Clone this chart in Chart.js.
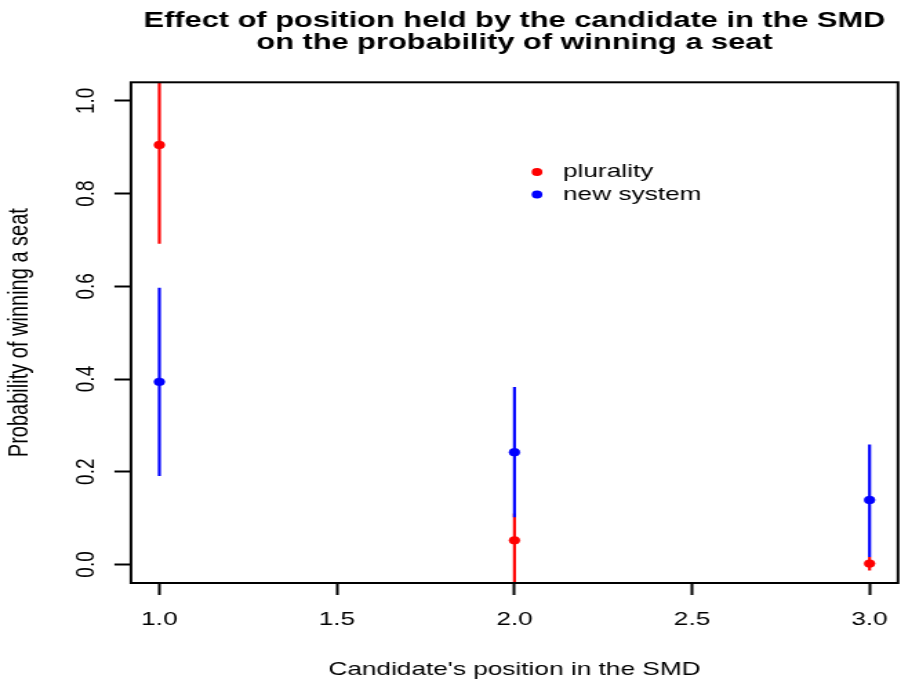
<!DOCTYPE html>
<html><head><meta charset="utf-8">
<script src="https://cdn.jsdelivr.net/npm/chart.js@4/dist/chart.umd.min.js"></script>
<style>
html,body{margin:0;padding:0;background:#fff;overflow:hidden;width:901px;height:679px}
#wrap{width:653px;height:679px;transform:scaleX(1.37979);transform-origin:0 0}
#c{display:block}
</style>
</head><body>
<div id="wrap"><canvas id="c" width="653" height="679" style="width:653px;height:679px"></canvas></div>
<script>
const titleLines = ['Effect of position held by the candidate in the SMD', 'on the probability of winning a seat'];
const xAxisTitle = "Candidate's position in the SMD";
const yAxisTitle = 'Probability of winning a seat';
const seriesNames = ['plurality', 'new system'];
const seriesColors = ['#ff0000', '#0000ff'];

const positions = [1, 2, 3];
const pluralityEst  = [0.905, 0.052, 0.002];
const pluralityLow  = [0.692, -0.068, -0.013];
const pluralityHigh = [1.118, 0.11, 0.016];
const newSystemEst  = [0.394, 0.242, 0.139];
const newSystemLow  = [0.191, 0.102, 0.016];
const newSystemHigh = [0.597, 0.383, 0.259];

const xTicks = [1.0, 1.5, 2.0, 2.5, 3.0];
const yTicks = [0.0, 0.2, 0.4, 0.6, 0.8, 1.0];
const xRange = [0.92, 3.08];
const yRange = [-0.04, 1.04];

const FONT = "'Liberation Sans', Arial, sans-serif";

function pointsOf(est) {
  return positions.map((x, i) => ({x: x, y: est[i]}));
}
function barsOf(low, high) {
  const out = [];
  positions.forEach((x, i) => {
    out.push({x: x, y: low[i]});
    out.push({x: x, y: high[i]});
    out.push({x: x, y: null});
  });
  return out;
}
function zeroPad(s) {
  s.paddingLeft = 0; s.paddingRight = 0; s.paddingTop = 0; s.paddingBottom = 0;
}

const boxPlugin = {
  id: 'rbox',
  afterDatasetsDraw(chart) {
    const a = chart.chartArea, ctx = chart.ctx;
    ctx.save();
    ctx.strokeStyle = '#000';
    ctx.lineWidth = 2;
    ctx.strokeRect(a.left, a.top, a.right - a.left, a.bottom - a.top);
    ctx.restore();
  }
};

const legendPlugin = {
  id: 'rlegend',
  afterDraw(chart) {
    const ctx = chart.ctx;
    const dotX = 389.2, textX = 408, y0 = 172, dy = 22.5;
    ctx.save();
    ctx.font = '19px ' + FONT;
    ctx.textBaseline = 'middle';
    ctx.textAlign = 'left';
    seriesNames.forEach((name, i) => {
      const y = y0 + i * dy;
      ctx.fillStyle = seriesColors[i];
      ctx.beginPath();
      ctx.arc(dotX, y, 3.9, 0, Math.PI * 2);
      ctx.fill();
      ctx.fillStyle = '#000';
      ctx.fillText(name, textX, y);
    });
    ctx.restore();
  }
};

const lineDs = (label, data, color, order) => ({
  label, data, showLine: true, spanGaps: false,
  borderColor: color, backgroundColor: color, borderWidth: 2.2,
  pointRadius: 0, pointHoverRadius: 0, order, clip: 0
});
const ptDs = (label, data, color, order) => ({
  label, data, showLine: false,
  borderColor: color, backgroundColor: color,
  pointRadius: 3.9, pointBorderWidth: 0.5, pointHoverRadius: 3.9, order, clip: 0
});

new Chart(document.getElementById('c'), {
  type: 'scatter',
  data: {
    datasets: [
      lineDs(seriesNames[0] + ' interval', barsOf(pluralityLow, pluralityHigh), seriesColors[0], 4),
      ptDs(seriesNames[0], pointsOf(pluralityEst), seriesColors[0], 3),
      lineDs(seriesNames[1] + ' interval', barsOf(newSystemLow, newSystemHigh), seriesColors[1], 2),
      ptDs(seriesNames[1], pointsOf(newSystemEst), seriesColors[1], 1)
    ]
  },
  options: {
    responsive: false,
    devicePixelRatio: 1,
    animation: false,
    events: [],
    layout: {autoPadding: false, padding: {top: 0, left: 0, right: 2.2, bottom: 0}},
    plugins: {
      legend: {display: false},
      tooltip: {enabled: false},
      title: {
        display: true, text: titleLines, fullSize: false, color: '#000',
        font: {family: FONT, size: 22.3, weight: 'bold', lineHeight: 1},
        padding: {top: 9.4, bottom: 28.3}
      }
    },
    scales: {
      x: {
        type: 'linear', position: 'bottom', min: xRange[0], max: xRange[1],
        afterBuildTicks: s => { s.ticks = xTicks.map(v => ({value: v})); },
        afterFit: s => { s.height = 96; zeroPad(s); },
        grid: {display: true, drawOnChartArea: false, drawTicks: true, tickLength: 12, tickWidth: 2, tickColor: '#000'},
        border: {display: false},
        ticks: {color: '#000', padding: 13.5, maxRotation: 0, minRotation: 0, autoSkip: false,
          font: {family: FONT, size: 19},
          callback: v => Number(v).toFixed(1)},
        title: {display: true, text: xAxisTitle, color: '#000', font: {family: FONT, size: 19}, padding: {top: 0, bottom: -1.9}}
      },
      y: {
        type: 'linear', position: 'left', min: yRange[0], max: yRange[1],
        afterBuildTicks: s => { s.ticks = yTicks.map(v => ({value: v})); },
        afterFit: s => { s.width = 94.9; zeroPad(s); },
        grid: {display: true, drawOnChartArea: false, drawTicks: true, tickLength: 12, tickWidth: 2, tickColor: '#000'},
        border: {display: false},
        ticks: {color: '#000', padding: 6.7, minRotation: 90, maxRotation: 90, crossAlign: 'center', autoSkip: false,
          font: {family: FONT, size: 19},
          callback: v => Number(v).toFixed(1)},
        title: {display: true, text: yAxisTitle, color: '#000', font: {family: FONT, size: 20}, padding: {top: 2.5, bottom: 0}}
      }
    }
  },
  plugins: [boxPlugin, legendPlugin]
});
</script>
</body></html>
